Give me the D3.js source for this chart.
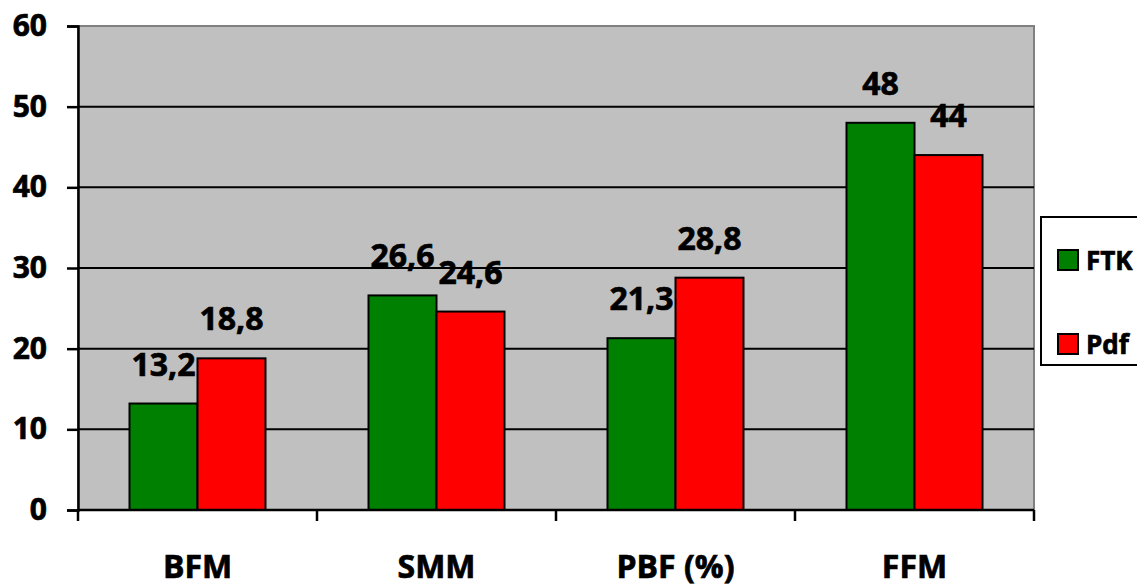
<!DOCTYPE html>
<html>
<head>
<meta charset="utf-8">
<script src="https://cdn.jsdelivr.net/npm/d3@7"></script>
<style>
  html, body { margin: 0; padding: 0; background: #fff; }
  svg { display: block; font-family: "Open Sans", "Liberation Sans", sans-serif; font-weight: 700; }
  .heavy { stroke: #000; stroke-width: 0.7px; paint-order: stroke; }
</style>
</head>
<body>
<svg id="chart" width="1137" height="588"></svg>
<script>
// Body composition measures compared across two methods
const categories = ["BFM", "SMM", "PBF (%)", "FFM"];
const seriesNames = ["FTK", "Pdf"];
const ftkValues = [13.2, 26.6, 21.3, 48];
const pdfValues = [18.8, 24.6, 28.8, 44];
const yTicks = [0, 10, 20, 30, 40, 50, 60];
const colors = ["#008000", "#ff0000"];

const svg = d3.select("#chart");
const plot = { left: 78, right: 1034, top: 26, bottom: 510 };

const x = d3.scaleBand().domain(categories).range([plot.left, plot.right]);
const y = d3.scaleLinear().domain([0, 60]).range([plot.bottom, plot.top]);
const barW = 68;

// plot background
svg.append("rect")
  .attr("x", plot.left).attr("y", plot.top)
  .attr("width", plot.right - plot.left).attr("height", plot.bottom - plot.top)
  .attr("fill", "#c0c0c0").attr("stroke", "#808080").attr("stroke-width", 2);

// horizontal gridlines
svg.append("g").selectAll("line")
  .data(yTicks.filter(d => d > 0 && d < 60))
  .join("line")
  .attr("x1", plot.left).attr("x2", plot.right)
  .attr("y1", d => y(d)).attr("y2", d => y(d))
  .attr("stroke", "#000").attr("stroke-width", 2);

// bars and value labels
const series = [ftkValues, pdfValues];
series.forEach((vals, si) => {
  svg.append("g").selectAll("rect")
    .data(categories.map((c, i) => ({ c, v: vals[i] })))
    .join("rect")
    .attr("x", d => x(d.c) + x.bandwidth() / 2 - barW + si * barW)
    .attr("y", d => y(d.v))
    .attr("width", barW)
    .attr("height", d => y(0) - y(d.v))
    .attr("fill", colors[si])
    .attr("stroke", "#000").attr("stroke-width", 2);

  svg.append("g").selectAll("text")
    .data(categories.map((c, i) => ({ c, v: vals[i] })))
    .join("text")
    .attr("class", "heavy")
    .attr("x", d => x(d.c) + x.bandwidth() / 2 - barW / 2 + si * barW)
    .attr("y", d => y(d.v) - 28)
    .attr("text-anchor", "middle")
    .attr("font-size", 32)
    .attr("fill", "#000")
    .text(d => String(d.v).replace(".", ","));
});

// y axis
const yAxis = svg.append("g")
  .attr("transform", `translate(${plot.left},0)`)
  .call(d3.axisLeft(y).tickValues(yTicks).tickSize(11).tickPadding(20));
yAxis.select(".domain").attr("stroke", "#000").attr("stroke-width", 2.5);
yAxis.selectAll(".tick line").attr("stroke", "#000").attr("stroke-width", 2.5);
yAxis.selectAll(".tick text").attr("class", "heavy").attr("font-size", 30)
  .attr("font-family", "Open Sans").attr("font-weight", 700).attr("fill", "#000");

// x axis with tick marks at category boundaries
const xg = svg.append("g").attr("transform", `translate(0,${plot.bottom})`);
xg.append("line").attr("x1", plot.left).attr("x2", plot.right)
  .attr("stroke", "#000").attr("stroke-width", 2.5);
const boundaries = categories.map(c => x(c)).concat([x(categories[categories.length - 1]) + x.step()]);
xg.selectAll("line.b").data(boundaries).join("line").attr("class", "b")
  .attr("x1", d => d).attr("x2", d => d).attr("y1", 0).attr("y2", 11)
  .attr("stroke", "#000").attr("stroke-width", 2.5);
xg.selectAll("text").data(categories).join("text")
  .attr("class", "heavy")
  .attr("x", d => x(d) + x.bandwidth() / 2)
  .attr("y", 68)
  .attr("text-anchor", "middle")
  .attr("font-size", 32)
  .attr("fill", "#000")
  .text(d => d);

// legend
const leg = svg.append("g");
leg.append("rect").attr("x", 1041).attr("y", 217).attr("width", 110).attr("height", 148)
  .attr("fill", "#fff").attr("stroke", "#000").attr("stroke-width", 2);
seriesNames.forEach((name, i) => {
  const cy = 260 + i * 84;
  leg.append("rect").attr("x", 1058).attr("y", cy - 10).attr("width", 20).attr("height", 20)
    .attr("fill", colors[i]).attr("stroke", "#000").attr("stroke-width", 2);
  leg.append("text").attr("class", "heavy").attr("x", 1086).attr("y", cy + 10)
    .attr("font-size", 26).attr("fill", "#000").text(name);
});
</script>
</body>
</html>
